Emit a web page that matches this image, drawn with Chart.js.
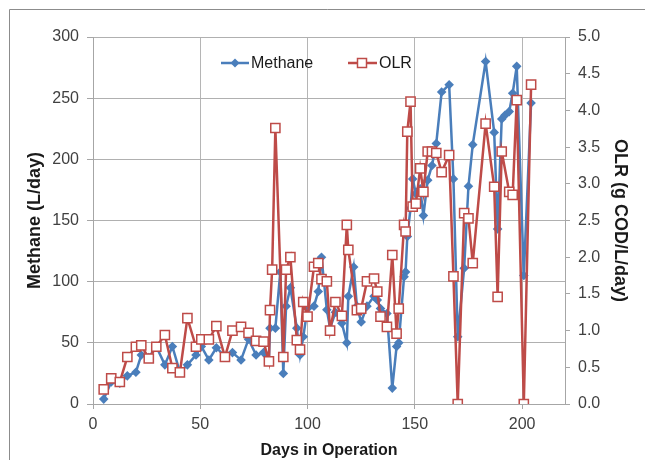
<!DOCTYPE html>
<html>
<head>
<meta charset="utf-8">
<script src="https://cdn.jsdelivr.net/npm/chart.js@4.4.1/dist/chart.umd.min.js"></script>
<style>
  html, body { margin: 0; padding: 0; background: #fff; }
  #wrap { width: 645px; height: 460px; position: relative; }
</style>
</head>
<body>
<div id="wrap"><canvas id="c" width="645" height="460"></canvas></div>
<script>
const days = [5, 8.5, 12.5, 16, 20, 22.5, 26, 29.5, 33.5, 37, 40.5, 44, 48, 50.5, 54, 57.5, 61.5, 65, 69, 72.5,
  76, 79.5, 82, 82.5, 83.5, 85, 87.3, 88.7, 90, 92, 95, 96.5, 98, 100, 103, 105, 106.5, 109, 110.5, 113,
  116, 118.3, 119, 121.5, 123, 125, 127.7, 131, 132.5, 134, 137, 139.5, 141.5, 142.5, 145, 145.7, 146.5, 148, 149, 150.5,
  152.5, 154, 156, 158, 160, 162.5, 166, 168, 170, 173, 175, 177, 183, 187, 188.6, 190.5, 192, 194, 195.6, 197.5,
  200.8, 204.2];
const methane = [4, 18, 17, 23, 26, 40, 38, 47, 32, 47, 26, 32, 40, 47, 36, 46, 39, 42, 36, 53,
  40, 42, 36, 62, null, 62, 108, 25, 80, 95, 62, 40, 55, 78, 80, 92, 120, 77, 62, 75,
  66, 50, 88, 112, 80, 67, 80, 88, 85, 78, 74, 13, 47, 50, 104, 108, 137, 160, 184, 172,
  176, 154, 183, 195, 213, 255, 261, 184, 55, 111, 178, 212, 280, 222, 143, 233, 236, 239, 254, 276,
  105, 246];
const olr = [0.2, 0.35, 0.3, 0.64, 0.78, 0.8, 0.62, 0.78, 0.94, 0.49, 0.43, 1.17, 0.78, 0.88, 0.88, 1.06, 0.64, 1.0, 1.05, 0.97,
  0.86, 0.85, 0.58, 1.28, 1.83, 3.76, null, 0.64, 1.83, 2.0, 0.87, 0.74, 1.39, 1.19, 1.87, 1.92, 1.7, 1.67, 1.0, 1.39,
  1.2, 2.44, 2.1, null, 1.28, 1.3, 1.67, 1.71, 1.53, 1.19, 1.05, 2.03, 0.96, 1.3, 2.44, 2.35, 3.71, 4.12, 2.69, 2.73,
  3.21, 2.89, 3.44, 3.44, 3.42, 3.16, 3.39, 1.74, 0.0, 2.6, 2.53, 1.92, 3.82, 2.96, 1.46, 3.44, null, 2.89, 2.85, 4.14,
  0.0, 4.35];
const xTicks = [0, 50, 100, 150, 200];
const seriesNames = ['Methane', 'OLR'];

const BLUE = '#4A7EBB';
const RED = '#BE4B48';
const FONT = "'Liberation Sans', Arial, sans-serif";

const methanePts = days.map((d, i) => ({ x: d, y: methane[i] }));
const olrPts = days.map((d, i) => ({ x: d, y: olr[i] }));

const decor = {
  id: 'decor',
  beforeDraw(chart) {
    const c = chart.ctx;
    c.save();
    c.fillStyle = '#ffffff';
    c.fillRect(0, 0, chart.width, chart.height);
    c.strokeStyle = '#8c8c8c';
    c.lineWidth = 1;
    c.beginPath();
    c.moveTo(9.5, chart.height + 5);
    c.lineTo(9.5, 9.5);
    c.lineTo(chart.width + 5, 9.5);
    c.stroke();
    c.restore();
  },
  afterDraw(chart) {
    const c = chart.ctx;
    c.save();
    const y = 63;
    // Methane legend
    c.strokeStyle = BLUE; c.lineWidth = 2.5;
    c.beginPath(); c.moveTo(221, y); c.lineTo(249, y); c.stroke();
    c.fillStyle = BLUE;
    c.beginPath(); c.moveTo(235, y - 4.5); c.lineTo(239.5, y); c.lineTo(235, y + 4.5); c.lineTo(230.5, y); c.closePath(); c.fill();
    // OLR legend
    c.strokeStyle = RED; c.lineWidth = 2.5;
    c.beginPath(); c.moveTo(348, y); c.lineTo(377, y); c.stroke();
    c.fillStyle = '#ffffff'; c.lineWidth = 1.5;
    c.fillRect(357.5, y - 4.5, 9, 9);
    c.strokeRect(357.5, y - 4.5, 9, 9);
    c.fillStyle = '#1a1a1a';
    c.font = '16px ' + FONT;
    c.textBaseline = 'middle';
    c.textAlign = 'left';
    c.fillText(seriesNames[0], 251, y + 1);
    c.fillText(seriesNames[1], 379, y + 1);
    c.restore();
  }
};

new Chart(document.getElementById('c'), {
  type: 'line',
  data: {
    datasets: [
      {
        label: seriesNames[1],
        data: olrPts,
        yAxisID: 'y2',
        borderColor: RED,
        borderWidth: 2.5,
        pointStyle: 'rect',
        pointRadius: 6.5,
        pointBorderWidth: 1.5,
        pointBackgroundColor: '#ffffff',
        pointBorderColor: RED,
        tension: 0,
        spanGaps: true,
        order: 0
      },
      {
        label: seriesNames[0],
        data: methanePts,
        yAxisID: 'y',
        borderColor: BLUE,
        borderWidth: 2.5,
        pointStyle: 'rectRot',
        pointRadius: 4.8,
        pointBorderWidth: 0,
        pointBackgroundColor: BLUE,
        pointBorderColor: BLUE,
        tension: 0,
        spanGaps: true,
        order: 1
      }
    ]
  },
  options: {
    responsive: false,
    animation: false,
    devicePixelRatio: 1,
    layout: { padding: { top: 37, left: 0, right: 0, bottom: 0 } },
    plugins: {
      legend: { display: false },
      tooltip: { enabled: false }
    },
    scales: {
      x: {
        type: 'linear',
        min: 0,
        max: 220,
        afterBuildTicks(axis) { axis.ticks = xTicks.map(v => ({ value: v })); },
        afterFit(scale) { scale.height = 56; },
        grid: {
          color: ctx => (ctx.tick && ctx.tick.value === 0) ? 'rgba(0,0,0,0)' : '#b5b5b5',
          borderDash: [2, 3],
          tickColor: '#a6a6a6',
          tickBorderDash: [],
          tickLength: 5,
          drawTicks: true
        },
        border: { display: true, color: '#a6a6a6', width: 1 },
        ticks: { color: '#404040', font: { family: FONT, size: 16 }, padding: 6, maxRotation: 0, autoSkip: false },
        title: { display: true, text: 'Days in Operation', color: '#1a1a1a', font: { family: FONT, size: 16, weight: 'bold' }, padding: { top: 0, bottom: 0 } }
      },
      y: {
        position: 'left',
        min: 0,
        max: 300,
        ticks: { stepSize: 50, color: '#404040', font: { family: FONT, size: 16 }, padding: 8 },
        afterFit(scale) { scale.width = 93; },
        grid: { color: '#b0b0b0', tickColor: '#a6a6a6', tickLength: 6 },
        border: { display: true, color: '#a6a6a6', width: 1 },
        title: { display: true, text: 'Methane (L/day)', color: '#1a1a1a', font: { family: FONT, size: 18, weight: 'bold' }, padding: { top: 24, bottom: 0 } }
      },
      y2: {
        position: 'right',
        min: 0,
        max: 5,
        ticks: { stepSize: 0.5, color: '#404040', font: { family: FONT, size: 16 }, padding: 8, callback: v => v.toFixed(1) },
        afterFit(scale) { scale.width = 80; },
        grid: { drawOnChartArea: false, color: '#a6a6a6', tickLength: 5 },
        border: { display: true, color: '#a6a6a6', width: 1 },
        title: { display: true, text: 'OLR (g COD/L/day)', color: '#1a1a1a', font: { family: FONT, size: 18, weight: 'bold' }, padding: { top: 14, bottom: 0 } }
      }
    }
  },
  plugins: [decor]
});
</script>
</body>
</html>
